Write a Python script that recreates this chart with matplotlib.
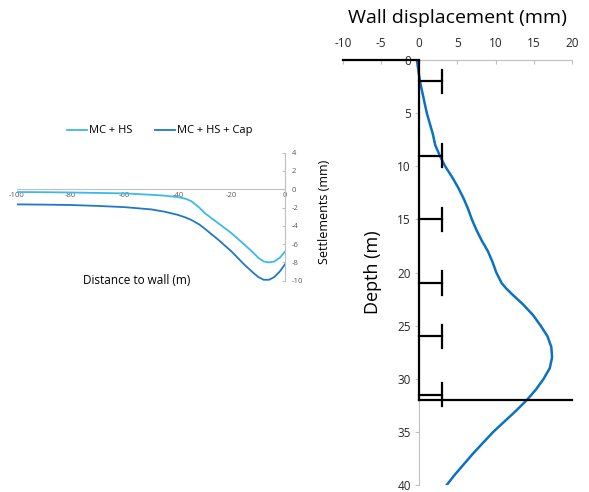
import matplotlib
matplotlib.use("Agg")
import matplotlib.pyplot as plt

plt.rcParams['font.family'] = ['Open Sans', 'DejaVu Sans']
plt.rcParams['axes.unicode_minus'] = False

# ---- Data: settlements (left chart) ----
distance = [-100, -90, -80, -70, -60, -50, -45, -40, -37, -35, -32, -30, -25, -20,
            -15, -12, -10, -8, -6, -4, -2, 0]
settle_mchs = [-0.3, -0.32, -0.35, -0.4, -0.45, -0.6, -0.7, -0.85, -1.05, -1.3, -2.0,
               -2.6, -3.7, -4.8, -6.1, -6.9, -7.5, -7.9, -8.0, -7.9, -7.5, -6.8]
settle_cap = [-1.65, -1.68, -1.72, -1.82, -1.95, -2.2, -2.45, -2.8, -3.1, -3.35, -3.85,
              -4.3, -5.5, -6.8, -8.3, -9.1, -9.6, -9.9, -9.9, -9.6, -9.0, -8.2]
left_xticks = [-100, -80, -60, -40, -20, 0]
left_yticks = [-10, -8, -6, -4, -2, 0, 2, 4]

# ---- Data: wall displacement (right chart) ----
depth = [0, 1, 2, 3, 4, 5, 6, 7, 8, 9, 10, 11, 12, 13, 14, 15, 16, 17, 18, 19, 20,
         21, 21.5, 22, 23, 24, 25, 26, 27, 28, 29, 30, 31, 32, 33, 34, 35, 36, 37,
         38, 39, 40]
displacement = [-0.3, -0.1, 0.1, 0.4, 0.7, 1.0, 1.4, 1.8, 2.1, 2.7, 3.4, 4.3, 5.1, 5.8,
                6.4, 6.9, 7.5, 8.2, 9.0, 9.6, 10.1, 10.8, 11.4, 12.1, 13.6, 14.9, 15.9,
                16.8, 17.3, 17.4, 17.1, 16.3, 15.3, 14.1, 12.7, 11.2, 9.7, 8.4, 7.1,
                5.9, 4.7, 3.6]
strut_depths = [2, 9, 15, 21, 26, 31.5]
strut_length = 3
wall_depth = 32
right_xticks = [-10, -5, 0, 5, 10, 15, 20]
right_yticks = [0, 5, 10, 15, 20, 25, 30, 35, 40]

fig = plt.figure(figsize=(5.89, 4.92), dpi=100)

# ---------------- Left chart ----------------
axl = fig.add_axes([0.0289, 0.4295, 0.4551, 0.2601])
axl.plot(distance, settle_mchs, color='#3DB8EC', lw=1.3, label='MC + HS')
axl.plot(distance, settle_cap, color='#1F78C8', lw=1.3, label='MC + HS + Cap')
axl.set_xlim(-100, 0)
axl.set_ylim(-10, 4)
axl.spines['left'].set_visible(False)
axl.spines['top'].set_visible(False)
axl.spines['bottom'].set_position(('data', 0))
axl.spines['bottom'].set_color('#BFBFBF')
axl.spines['right'].set_color('#BFBFBF')
axl.spines['bottom'].set_linewidth(0.8)
axl.spines['right'].set_linewidth(0.8)
axl.set_xticks(left_xticks)
axl.set_yticks(left_yticks)
axl.tick_params(axis='x', length=0, labelsize=5.5, pad=2, labelcolor='#595959')
axl.tick_params(axis='y', left=False, right=True, labelleft=False, labelright=True,
                direction='in', length=2, labelsize=5.5, pad=5, labelcolor='#595959',
                color='#BFBFBF')
axl.yaxis.set_label_position('right')
axl.set_ylabel('Settlements (mm)', fontsize=9)
axl.yaxis.set_label_coords(1.123, 0.54)
axl.text(0.448, 0.0, 'Distance to wall (m)', transform=axl.transAxes, fontsize=8.5,
         ha='center', va='center')
axl.legend(loc='center', bbox_to_anchor=(0.532, 1.17), ncol=2, frameon=False,
           fontsize=8, handlelength=1.8, handletextpad=0.2, columnspacing=2.0)

# ---------------- Right chart ----------------
axr = fig.add_axes([0.582, 0.0142, 0.389, 0.8638])
axr.plot(displacement, depth, color='#0B72C2', lw=1.8, zorder=3)
axr.set_xlim(-10, 20)
axr.set_ylim(40, 0)
# wall, ground and base lines
axr.plot([-10, 0], [0, 0], color='black', lw=1.6, zorder=4, clip_on=False)
axr.plot([0, 0], [0, wall_depth], color='black', lw=1.6, zorder=4)
axr.plot([0, 20], [wall_depth, wall_depth], color='black', lw=1.6, zorder=4, clip_on=False)
for d in strut_depths:
    axr.plot([0, strut_length], [d, d], color='black', lw=1.6, zorder=4)
    axr.plot([strut_length, strut_length], [d - 1.1, d + 1.1], color='black', lw=1.6, zorder=4)

axr.spines['right'].set_visible(False)
axr.spines['bottom'].set_visible(False)
axr.spines['left'].set_position(('data', 0))
axr.spines['left'].set_color('#BFBFBF')
axr.spines['top'].set_color('#BFBFBF')
axr.xaxis.tick_top()
axr.xaxis.set_label_position('top')
axr.set_xticks(right_xticks)
axr.set_yticks(right_yticks)
axr.tick_params(axis='x', direction='in', length=3, labelsize=8.5, pad=7,
                color='#BFBFBF', labelcolor='#262626')
axr.tick_params(axis='y', direction='out', length=3, labelsize=8.5, pad=3,
                color='#BFBFBF', labelcolor='#262626')
axr.set_xlabel('Wall displacement (mm)', fontsize=14, labelpad=10)
axr.text(0.13, 0.5, 'Depth (m)', transform=axr.transAxes, rotation=90,
         fontsize=13, ha='center', va='center')

fig.savefig('out.png', dpi=100)
